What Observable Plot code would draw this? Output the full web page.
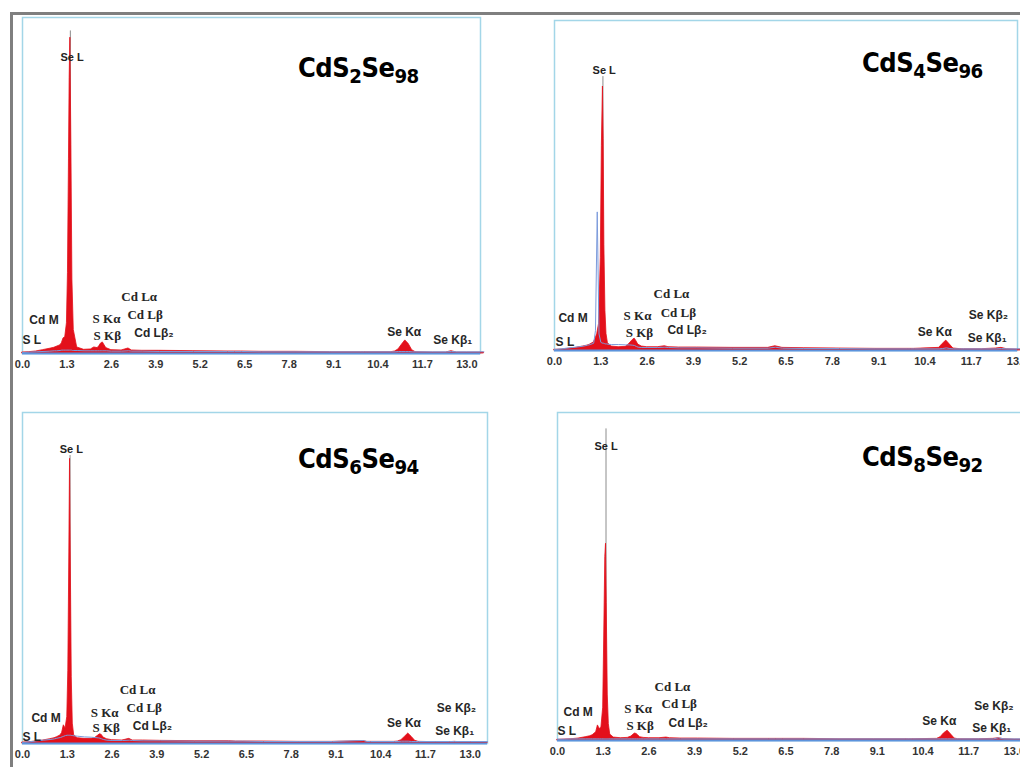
<!DOCTYPE html>
<html><head><meta charset="utf-8">
<script src="https://cdn.jsdelivr.net/npm/d3@7"></script>
<script src="https://cdn.jsdelivr.net/npm/@observablehq/plot@0.6"></script>
<style>
html,body{margin:0;padding:0;background:#fff;width:1020px;height:767px;overflow:hidden;position:relative;}
.panel{position:absolute;}
.title{position:absolute;font-family:"DejaVu Sans Condensed","Liberation Sans",sans-serif;font-weight:bold;font-size:27px;color:#000;white-space:nowrap;line-height:1;letter-spacing:-0.5px;}
.title sub{font-size:0.75em;vertical-align:-0.32em;line-height:0;}
#border{position:absolute;left:10px;top:12px;width:1100px;height:1000px;border-top:3px solid #7f7f7f;border-left:3px solid #7f7f7f;}
</style></head><body>
<div id="border"></div>
<script>
// ---- data ----
const titles = [["CdS","2","Se","98"],["CdS","4","Se","96"],["CdS","6","Se","94"],["CdS","8","Se","92"]];
const tickValues = [0, 1.3, 2.6, 3.9, 5.2, 6.5, 7.8, 9.1, 10.4, 11.7, 13.0];

const energy = [0,0.2,0.4,0.6,0.8,0.93,1.0,1.1,1.15,1.2,1.25,1.3,1.33,1.36,1.38,1.40,1.43,1.46,1.5,1.6,1.8,2.0,2.1,2.2,2.25,2.3,2.35,2.45,2.6,2.9,3.1,3.2,3.5,4.0,5.0,6.0,6.2,6.4,7.0,8.0,9.0,9.9,10.0,10.1,10.8,10.9,11.0,11.1,11.2,11.3,11.4,11.5,12.0,12.4,12.55,12.7,13.0,13.5];

const redA = [0.3,0.4,0.6,1.0,1.4,1.7,2.0,2.4,3.0,4.5,4.8,9,24,58,82,94,62,22,7,1.8,1.1,1.2,1.8,1.6,2.2,3.0,3.3,1.6,1.0,0.9,1.5,0.9,0.8,0.8,0.7,0.6,0.6,0.6,0.5,0.5,0.4,0.4,0.4,0.4,0.4,0.6,1.2,2.6,3.9,2.8,1.0,0.4,0.3,0.3,0.7,0.3,0.3,0.3];
const blueA = [0.3,0.4,0.5,0.6,0.7,0.8,0.8,0.9,1.0,1.0,1.0,1.0,1.0,1.0,1.0,1.0,1.0,0.9,0.9,0.9,0.8,0.8,0.8,0.8,0.8,0.8,0.8,0.8,0.7,0.7,0.8,0.7,0.7,0.6,0.6,0.6,0.6,0.6,0.5,0.5,0.5,0.5,0.5,0.5,0.5,0.5,0.6,0.6,0.6,0.6,0.5,0.5,0.5,0.5,0.6,0.5,0.5,0.5];
const redB = [0.2,0.3,0.5,0.8,1.2,1.5,1.8,2.4,3.5,5,8,28,62,80,64,32,12,5,2.2,1.2,1.0,1.1,2.0,3.2,3.6,2.8,1.8,1.2,1.0,1.0,1.3,1.0,0.9,0.9,0.8,0.8,1.3,0.8,0.7,0.6,0.5,0.5,0.5,0.5,0.8,2.0,3.0,1.8,0.6,0.5,0.4,0.4,0.4,0.6,0.8,0.4,0.3,0.3];
const blueB = [0.3,0.5,0.8,1.0,1.3,1.6,1.8,2.2,6,42,5,2.5,2.3,2.2,2.2,2.1,2.0,2.0,1.9,1.8,1.8,1.7,1.7,1.6,1.5,1.2,1.0,0.9,0.9,0.9,1.0,0.9,0.8,0.8,0.7,0.7,1.0,0.7,0.6,0.6,0.5,0.5,0.5,0.5,0.5,0.6,0.8,0.6,0.5,0.5,0.5,0.5,0.5,0.5,0.6,0.5,0.5,0.5];
const redC = [0.3,0.4,0.6,0.9,1.3,1.6,1.9,2.4,3.2,5.5,4.5,8,22,58,86,58,20,6,2.5,1.6,1.4,1.4,1.6,2.4,2.8,2.6,1.8,1.3,1.0,0.9,1.4,0.9,0.9,0.8,0.7,0.7,0.6,0.6,0.6,0.5,0.5,0.7,0.5,0.5,0.5,0.6,1.0,2.0,3.0,2.0,0.8,0.5,0.4,0.4,0.5,0.4,0.4,0.4];
const blueC = [0.3,0.5,0.8,1.0,1.2,1.4,1.6,1.8,2.0,2.2,2.4,2.5,2.5,2.5,2.5,2.5,2.4,2.4,2.3,2.2,2.0,1.9,1.8,1.7,1.6,1.4,1.2,1.0,0.9,0.9,1.0,0.9,0.8,0.8,0.7,0.7,0.7,0.7,0.6,0.6,0.6,0.9,0.6,0.6,0.6,0.6,0.7,0.7,0.7,0.6,0.6,0.6,0.6,0.6,0.6,0.6,0.6,0.6];
const redD = [0.2,0.3,0.4,0.6,1.0,1.3,1.6,2.5,4.6,3.5,4,10,32,56,60,42,14,5,1.8,0.9,0.7,0.8,1.2,2.1,2.0,1.5,1.0,0.8,0.7,0.7,0.9,0.7,0.6,0.6,0.5,0.5,0.5,0.5,0.5,0.4,0.4,0.4,0.4,0.4,0.5,1.0,2.2,3.0,1.8,0.6,0.4,0.4,0.4,0.5,0.7,0.4,0.3,0.3];
const blueD = [0.4,0.4,0.5,0.5,0.5,0.5,0.5,0.5,0.5,0.5,0.5,0.5,0.5,0.5,0.5,0.5,0.5,0.5,0.5,0.5,0.5,0.5,0.5,0.5,0.5,0.5,0.5,0.5,0.5,0.5,0.5,0.5,0.5,0.5,0.5,0.5,0.5,0.5,0.5,0.5,0.5,0.5,0.5,0.5,0.5,0.5,0.5,0.5,0.5,0.5,0.5,0.5,0.5,0.5,0.8,0.5,0.5,0.5];

// Se L peak tip (thin trace above the filled peak)
const seLPeakEnergy = [1.40, 1.36, 1.38, 1.38];
const seLPeakTop = [96, 83, 87, 95];

const labelNames = ["Se L","Cd M","S L","S Kα","S Kβ","Cd Lα","Cd Lβ","Cd Lβ₂","Se Kα","Se Kβ₁","Se Kβ₂"];
const labelXA = [1.11,0.20,0.00,2.05,2.08,2.89,3.07,3.27,10.67,12.02,null];
const labelYA = [88.1,9.8,3.9,10.4,5.4,17.0,11.6,6.0,6.3,3.9,null];
const labelXB = [1.07,0.11,0.03,1.94,2.00,2.78,2.98,3.17,10.20,11.60,11.63];
const labelYB = [84.8,9.7,2.4,10.6,5.5,17.3,11.5,6.1,5.5,3.6,10.6];
const labelXC = [1.08,0.26,0.00,1.98,2.03,2.82,3.02,3.20,10.58,11.98,12.03];
const labelYC = [88.8,7.6,1.8,9.4,4.8,16.3,10.9,5.1,6.0,3.6,10.6];
const labelXD = [1.05,0.17,0.00,1.90,1.96,2.76,2.96,3.16,10.38,11.80,11.86];
const labelYD = [89.6,8.5,3.0,9.8,4.6,16.5,11.3,5.2,5.8,3.7,10.4];

// ---- layout ----
const panels = [
  {left:0,   top:0,   width:500, height:380, ml:22, mr:20, mt:17, mb:27, xmax:13.4,  red:redA, blue:blueA, lx:labelXA, ly:labelYA, tl:298, tt:54},
  {left:510, top:0,   width:530, height:377, ml:44, mr:23, mt:20, mb:27, xmax:13.0,  red:redB, blue:blueB, lx:labelXB, ly:labelYB, tl:862, tt:49},
  {left:0,   top:390, width:510, height:380, ml:22, mr:23, mt:22, mb:27, xmax:13.5,  red:redC, blue:blueC, lx:labelXC, ly:labelYC, tl:298, tt:445},
  {left:510, top:390, width:530, height:377, ml:47, mr:18, mt:22, mb:27, xmax:13.23, red:redD, blue:blueD, lx:labelXD, ly:labelYD, tl:862, tt:443}
];
const serifLabels = new Set(["S Kα","S Kβ","Cd Lα","Cd Lβ"]);
const fmt = d3.format(".1f");
const sansFont = "Liberation Sans, Arial, sans-serif";

panels.forEach((p, i) => {
  const rows = energy.map((e, j) => ({e, red: p.red[j], blue: p.blue[j]}));
  const labels = labelNames.map((name, j) => ({name, x: p.lx[j], y: p.ly[j]})).filter(d => d.x != null);
  const serif = labels.filter(d => serifLabels.has(d.name));
  const sans = labels.filter(d => !serifLabels.has(d.name) && d.name !== "Se L");
  const seL = labels.filter(d => d.name === "Se L");
  const chart = Plot.plot({
    width: p.width, height: p.height,
    marginLeft: p.ml, marginRight: p.mr, marginTop: p.mt, marginBottom: p.mb,
    x: {domain: [0, p.xmax], axis: null},
    y: {domain: [0, 100], axis: null},
    style: {background: "transparent", overflow: "visible"},
    marks: [
      Plot.frame({stroke: "#a3d6e8", strokeWidth: 1.5}),
      Plot.ruleX([{e: seLPeakEnergy[i], top: seLPeakTop[i]}], {x: "e", y1: 0, y2: "top", stroke: "#8c8c8c", strokeWidth: 1}),
      Plot.areaY(rows, {x: "e", y: "red", fill: "#e3101b", stroke: "#e3101b", strokeWidth: 0.8}),
      Plot.line(rows, {x: "e", y: "blue", stroke: "#7c9bdc", strokeWidth: 1}),
      Plot.ruleY([0], {stroke: "#5d93dc", strokeWidth: 2}),
      Plot.text(seL, {x: "x", y: "y", text: "name", textAnchor: "start", lineAnchor: "middle", fontSize: 11, fontWeight: "bold", fontFamily: sansFont, fill: "#222"}),
      Plot.text(sans, {x: "x", y: "y", text: "name", textAnchor: "start", lineAnchor: "middle", fontSize: 12, fontWeight: "bold", fontFamily: sansFont, fill: "#262626"}),
      Plot.text(serif, {x: "x", y: "y", text: "name", textAnchor: "start", lineAnchor: "middle", fontSize: 13, fontWeight: "bold", fontFamily: "Liberation Serif, Times New Roman, serif", fill: "#262626"}),
      Plot.axisX(tickValues, {tickSize: 0, tickPadding: 7, tickFormat: fmt, fontSize: 11, fontWeight: "bold", fontFamily: sansFont, fill: "#333"})
    ]
  });
  chart.classList.add("panel");
  chart.style.left = p.left + "px";
  chart.style.top = p.top + "px";
  document.body.appendChild(chart);

  const t = document.createElement("div");
  t.className = "title";
  t.style.left = p.tl + "px";
  t.style.top = p.tt + "px";
  const [a, b, c, d] = titles[i];
  t.innerHTML = `${a}<sub>${b}</sub>${c}<sub>${d}</sub>`;
  document.body.appendChild(t);
});
</script>
</body></html>
